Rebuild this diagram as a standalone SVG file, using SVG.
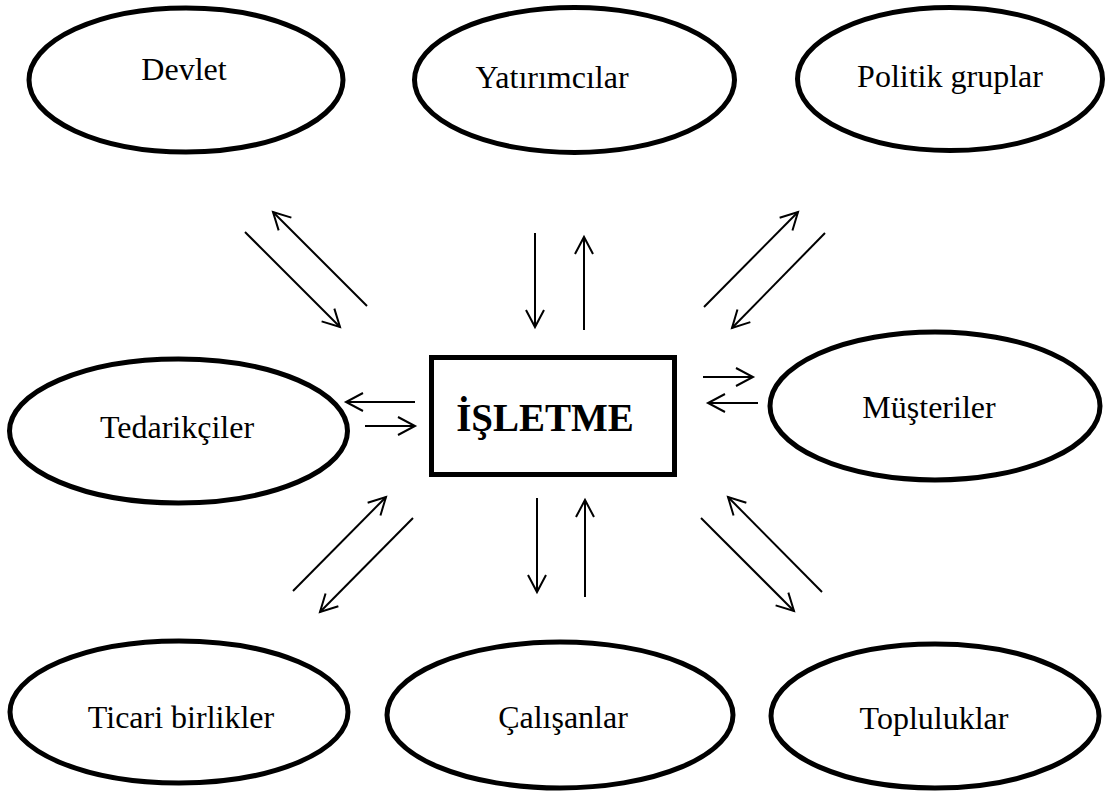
<svg xmlns="http://www.w3.org/2000/svg" width="1109" height="794" viewBox="0 0 1109 794">
<style>
.node ellipse{fill:#fff;stroke:#000;stroke-width:5}
.lbl{font-family:"Liberation Serif","Times New Roman",serif;font-size:32px;fill:#000;text-anchor:middle}
.main{font-family:"Liberation Serif","Times New Roman",serif;font-size:39px;font-weight:bold;fill:#000;text-anchor:middle}
.conn line{stroke:#000;stroke-width:2;marker-end:url(#ah)}
</style>
<defs>
<marker id="ah" markerUnits="userSpaceOnUse" markerWidth="24" markerHeight="24" viewBox="-20 -12 24 24" refX="0" refY="0" orient="auto">
<path d="M-17,-9 L0,0 L-17,9" fill="none" stroke="#000" stroke-width="2"/>
</marker>
</defs>
<rect width="1109" height="794" fill="#fff"/>
<g id="devlet" class="node"><ellipse cx="186" cy="80" rx="157" ry="72"/><text class="lbl" x="184" y="80">Devlet</text></g>
<g id="yatirimcilar" class="node"><ellipse cx="574.5" cy="80" rx="160" ry="72.5"/><text class="lbl" x="552" y="88">Yatırımcılar</text></g>
<g id="politik" class="node"><ellipse cx="950" cy="79" rx="152.5" ry="71.5"/><text class="lbl" x="950" y="87">Politik gruplar</text></g>
<g id="tedarikciler" class="node"><ellipse cx="178.5" cy="431" rx="169" ry="72"/><text class="lbl" x="177" y="438">Tedarikçiler</text></g>
<g id="musteriler" class="node"><ellipse cx="935" cy="406" rx="165" ry="74"/><text class="lbl" x="929" y="418">Müşteriler</text></g>
<g id="ticari" class="node"><ellipse cx="179" cy="712" rx="169" ry="71"/><text class="lbl" x="181" y="728">Ticari birlikler</text></g>
<g id="calisanlar" class="node"><ellipse cx="560" cy="715" rx="173" ry="73"/><text class="lbl" x="563" y="728">Çalışanlar</text></g>
<g id="topluluklar" class="node"><ellipse cx="935" cy="716" rx="164" ry="72"/><text class="lbl" x="934" y="729">Topluluklar</text></g>
<g id="isletme" class="node"><rect x="431.5" y="357.5" width="243" height="117" fill="#fff" stroke="#000" stroke-width="5"/><text class="main" x="545" y="431">İŞLETME</text></g>
<g id="connectors" class="conn">
<line x1="245" y1="232" x2="340" y2="327"/>
<line x1="367" y1="306" x2="273" y2="212"/>
<line x1="535" y1="233" x2="535" y2="327"/>
<line x1="584" y1="330" x2="584" y2="237"/>
<line x1="704" y1="307" x2="798" y2="212"/>
<line x1="825" y1="233" x2="732" y2="328"/>
<line x1="415" y1="402" x2="346" y2="402"/>
<line x1="365" y1="426" x2="415" y2="426"/>
<line x1="703" y1="377" x2="753" y2="377"/>
<line x1="758" y1="403" x2="708" y2="403"/>
<line x1="293" y1="591" x2="386" y2="497"/>
<line x1="413" y1="518" x2="320" y2="612"/>
<line x1="537" y1="498" x2="537" y2="592"/>
<line x1="585" y1="597" x2="585" y2="500"/>
<line x1="701" y1="518" x2="794" y2="611"/>
<line x1="822" y1="592" x2="728" y2="497"/>
</g>
</svg>
